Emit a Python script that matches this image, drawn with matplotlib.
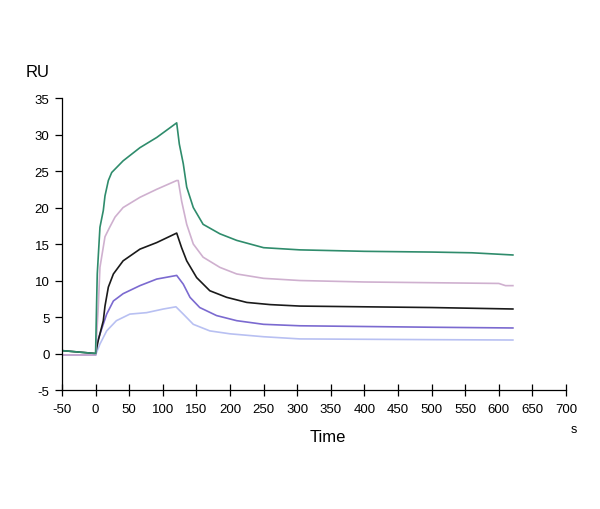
import matplotlib.pyplot as plt

plt.rcParams['font.family'] = ['Liberation Sans', 'DejaVu Sans']
plt.rcParams['axes.unicode_minus'] = False

# sensorgram readings (time in s, response in RU)
t_green = [-50, 0, 1.6, 2.5, 6.5, 11.5, 14, 19, 24, 41, 66, 91, 120.7,
           124.6, 130.5, 135.6, 145.4, 160, 185, 210, 250, 304, 400, 500, 560, 621]
green = [0.4, 0.0, 7.2, 10.9, 17.3, 19.6, 21.6, 23.7, 24.8, 26.4, 28.2, 29.6, 31.6,
         28.7, 26.0, 22.8, 20.0, 17.7, 16.4, 15.5, 14.5, 14.2, 14.0, 13.9, 13.8, 13.5]

t_pink = [-50, 0, 4, 6.5, 14, 21, 29, 41, 66, 91, 120.7,
          123, 128, 135.6, 145.4, 160, 185, 210, 250, 304, 400, 500, 600, 610, 621]
pink = [-0.2, -0.2, 6.4, 11.8, 16.0, 17.3, 18.7, 20.0, 21.4, 22.5, 23.7,
        23.7, 20.9, 17.7, 15.0, 13.2, 11.8, 10.9, 10.3, 10.0, 9.8, 9.7, 9.6, 9.3, 9.3]

t_black = [-50, 0, 4, 11.5, 14, 19, 26.5, 41, 66, 91, 120.7,
           128, 135.6, 150.4, 170, 195, 225, 260, 304, 400, 500, 621]
black = [0.4, 0.0, 1.8, 4.5, 6.5, 9.1, 10.9, 12.7, 14.3, 15.2, 16.5,
         14.5, 12.7, 10.4, 8.6, 7.7, 7.0, 6.7, 6.5, 6.4, 6.3, 6.1]

t_purple = [-50, 0, 1.6, 16.5, 26.5, 41, 66, 91, 120.7,
            130.5, 140.5, 155, 180, 210, 250, 304, 400, 500, 621]
purple = [-0.2, -0.2, 1.3, 5.4, 7.2, 8.2, 9.3, 10.2, 10.7,
          9.5, 7.7, 6.3, 5.2, 4.5, 4.0, 3.8, 3.7, 3.6, 3.5]

t_lblue = [-50, 0, 6.5, 16.5, 31, 51, 76, 101, 119.6,
           130.5, 145.4, 170, 200, 250, 304, 400, 500, 621]
lblue = [-0.2, -0.2, 1.3, 3.1, 4.5, 5.4, 5.6, 6.1, 6.4,
         5.4, 4.0, 3.1, 2.7, 2.3, 2.0, 1.95, 1.9, 1.85]

series = [(t_lblue, lblue, '#b8c0f2'), (t_purple, purple, '#7b6ad0'),
          (t_black, black, '#1a1a1a'), (t_pink, pink, '#cfb0cf'),
          (t_green, green, '#2f8c6c')]

fig = plt.figure(figsize=(6, 5.1), dpi=100)
ax = fig.add_axes([0.1033, 0.2333, 0.84, 0.5725])

for tt, values, color in series:
    ax.plot(tt, values, color=color, lw=1.2)

ax.set_xlim(-50, 700)
ax.set_ylim(-5, 35)
ax.set_xticks(range(-50, 701, 50))
ax.set_yticks(range(-5, 36, 5))
for side in ['top', 'right']:
    ax.spines[side].set_visible(False)
ax.spines['left'].set_linewidth(0.9)
ax.spines['bottom'].set_linewidth(0.9)
ax.tick_params(axis='x', direction='inout', length=8, width=0.9, labelsize=9.5, pad=5)
ax.tick_params(axis='y', direction='out', length=5, width=0.9, labelsize=9.5, pad=4)

fig.text(0.063, 0.857, 'RU', fontsize=12, ha='center', va='center')
fig.text(0.547, 0.143, 'Time', fontsize=12, ha='center', va='center')
fig.text(0.957, 0.157, 's', fontsize=9, ha='center', va='center')

fig.savefig('out.png', dpi=100)
